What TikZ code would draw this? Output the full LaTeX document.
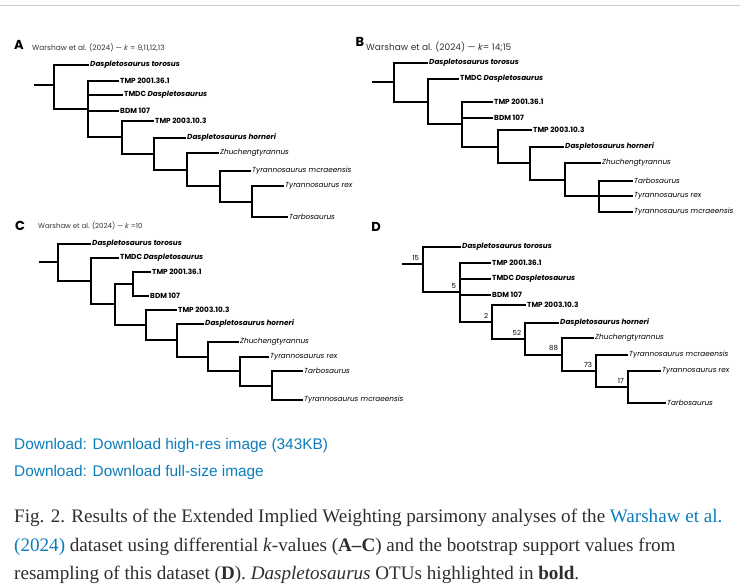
\documentclass[tikz,border=0pt]{standalone}
\usepackage{fontspec}
\setmainfont{Liberation Serif}
\setsansfont{Poppins}
\newfontfamily\linkfont{Liberation Sans}
\usetikzlibrary{positioning}
\definecolor{linkblue}{HTML}{0C7DBB}
\definecolor{captext}{HTML}{2E2E2E}
\tikzset{
  branch/.style={line width=1.7pt, line cap=rect},
  taxon/.style={anchor=west, inner xsep=2pt, inner ysep=0pt, font=\sffamily\fontsize{7.3}{9}\selectfont},
  das/.style={taxon, font=\sffamily\bfseries\itshape\fontsize{7.3}{9}\selectfont},
  spec/.style={taxon, font=\sffamily\bfseries\fontsize{7.3}{9}\selectfont},
  other/.style={taxon, font=\sffamily\itshape\fontsize{7.3}{9}\selectfont},
  panel/.style={inner sep=0pt, font=\sffamily\bfseries\fontsize{13}{15}\selectfont},
  head/.style={anchor=west, inner sep=0pt, text=black!80, font=\sffamily\fontsize{7.4}{8}\selectfont},
  support/.style={above left=2.5pt, inner sep=2pt, font=\sffamily\fontsize{7}{8}\selectfont},
  link/.style={anchor=base west, inner sep=0pt, text=linkblue, font=\linkfont\fontsize{15.4}{18}\selectfont},
  caption/.style={anchor=base west, inner sep=0pt, text=captext, font=\fontsize{19.1}{22}\selectfont}
}

\begin{document}
\begin{tikzpicture}[x=1pt, y=-1pt]
\useasboundingbox (0,0) rectangle (755,587);
\draw[black!20, line width=0.8pt] (0,5) -- (740,5);

% panel A
\node[panel] (pA) at (19,45) {A};
\node[head] (hA) at (32,48) {Warshaw et al. (2024) — \textit{k} = 9,11,12,13};
\coordinate (a0) at (35,85);
\coordinate (a1) at (54,85);
\coordinate (a2) at (88,109);
\coordinate (a3) at (122,137);
\coordinate (a4) at (154,154);
\coordinate (a5) at (187,170);
\coordinate (a6) at (220,186);
\coordinate (a7) at (252,202);
\node[das] (aTor) at (88,65) {Daspletosaurus torosus};
\node[spec] (aT01) at (118,81) {TMP 2001.36.1};
\node[spec] (aTMDC) at (122,95) {TMDC \textit{Daspletosaurus}};
\node[spec] (aBDM) at (118,111) {BDM 107};
\node[spec] (aT03) at (153,121) {TMP 2003.10.3};
\node[das] (aHor) at (185,138) {Daspletosaurus horneri};
\node[other] (aZhu) at (218,153) {Zhuchengtyrannus};
\node[other] (aMcr) at (250,171) {Tyrannosaurus mcraeensis};
\node[other] (aRex) at (283,186) {Tyrannosaurus rex};
\node[other] (aTar) at (287,217) {Tarbosaurus};
\draw[branch] (a0) -- (a1) (a1) |- (aTor.west) (a1) |- (a2)
  (a2) |- (aT01.west) (a2) |- (aTMDC.west) (a2) |- (aBDM.west) (a2) |- (a3)
  (a3) |- (aT03.west) (a3) |- (a4)
  (a4) |- (aHor.west) (a4) |- (a5)
  (a5) |- (aZhu.west) (a5) |- (a6)
  (a6) |- (aMcr.west) (a6) |- (a7)
  (a7) |- (aRex.west) (a7) |- (aTar.west);

% panel B
\node[panel] (pB) at (360,42) {B};
\node[head, font=\sffamily\fontsize{9}{10}\selectfont] (hB) at (366,47) {Warshaw et al. (2024) — \textit{k}= 14;15};
\coordinate (b0) at (373,82);
\coordinate (b1) at (394,82);
\coordinate (b2) at (428,102);
\coordinate (b3) at (462,124);
\coordinate (b4) at (498,147);
\coordinate (b5) at (530,163);
\coordinate (b6) at (565,180);
\coordinate (b7) at (599,196);
\node[das] (bTor) at (427,63) {Daspletosaurus torosus};
\node[spec] (bTMDC) at (458,79) {TMDC \textit{Daspletosaurus}};
\node[spec] (bT01) at (492,102) {TMP 2001.36.1};
\node[spec] (bBDM) at (492,118) {BDM 107};
\node[spec] (bT03) at (531,130) {TMP 2003.10.3};
\node[das] (bHor) at (563,147) {Daspletosaurus horneri};
\node[other] (bZhu) at (600,163) {Zhuchengtyrannus};
\node[other] (bTar) at (632,181) {Tarbosaurus};
\node[other] (bRex) at (632,196) {Tyrannosaurus rex};
\node[other] (bMcr) at (632,212) {Tyrannosaurus mcraeensis};
\draw[branch] (b0) -- (b1) (b1) |- (bTor.west) (b1) |- (b2)
  (b2) |- (bTMDC.west) (b2) |- (b3)
  (b3) |- (bT01.west) (b3) |- (bBDM.west) (b3) |- (b4)
  (b4) |- (bT03.west) (b4) |- (b5)
  (b5) |- (bHor.west) (b5) |- (b6)
  (b6) |- (bZhu.west) (b6) |- (b7)
  (b7) |- (bTar.west) (b7) |- (bRex.west) (b7) |- (bMcr.west);

% panel C
\node[panel] (pC) at (20,226) {C};
\node[head, font=\sffamily\fontsize{7}{8}\selectfont] (hC) at (38,226) {Warshaw et al. (2024) — \textit{k} =10};
\coordinate (c0) at (40,262);
\coordinate (c1) at (58,262);
\coordinate (c2) at (91,281);
\coordinate (c3) at (115,304);
\coordinate (cX) at (133,284);
\coordinate (c4) at (146,325);
\coordinate (c5) at (177,340);
\coordinate (c6) at (208,357);
\coordinate (c7) at (240,371);
\coordinate (c8) at (272,386);
\node[das] (cTor) at (90,244) {Daspletosaurus torosus};
\node[spec] (cTMDC) at (118,258) {TMDC \textit{Daspletosaurus}};
\node[spec] (cT01) at (150,272) {TMP 2001.36.1};
\node[spec] (cBDM) at (148,296) {BDM 107};
\node[spec] (cT03) at (176,310) {TMP 2003.10.3};
\node[das] (cHor) at (203,324) {Daspletosaurus horneri};
\node[other] (cZhu) at (238,342) {Zhuchengtyrannus};
\node[other] (cRex) at (268,357) {Tyrannosaurus rex};
\node[other] (cTar) at (302,371) {Tarbosaurus};
\node[other] (cMcr) at (302,400) {Tyrannosaurus mcraeensis};
\draw[branch] (c0) -- (c1) (c1) |- (cTor.west) (c1) |- (c2)
  (c2) |- (cTMDC.west) (c2) |- (c3)
  (c3) |- (cX) (cX) |- (cT01.west) (cX) |- (cBDM.west) (c3) |- (c4)
  (c4) |- (cT03.west) (c4) |- (c5)
  (c5) |- (cHor.west) (c5) |- (c6)
  (c6) |- (cZhu.west) (c6) |- (c7)
  (c7) |- (cRex.west) (c7) |- (c8)
  (c8) |- (cTar.west) (c8) |- (cMcr.west);

% panel D, bootstrap
\node[panel] (pD) at (376,227) {D};
\coordinate (d0) at (403,264);
\coordinate (d1) at (423,264);
\coordinate (d2) at (460,292);
\coordinate (d3) at (492,322);
\coordinate (d4) at (525,339);
\coordinate (d5) at (562,355);
\coordinate (d6) at (596,371);
\coordinate (d7) at (628,387);
\node[das] (dTor) at (460,247) {Daspletosaurus torosus};
\node[spec] (dT01) at (490,263) {TMP 2001.36.1};
\node[spec] (dTMDC) at (490,279) {TMDC \textit{Daspletosaurus}};
\node[spec] (dBDM) at (490,295) {BDM 107};
\node[spec] (dT03) at (525,305) {TMP 2003.10.3};
\node[das] (dHor) at (558,323) {Daspletosaurus horneri};
\node[other] (dZhu) at (593,338) {Zhuchengtyrannus};
\node[other] (dMcr) at (627,355) {Tyrannosaurus mcraeensis};
\node[other] (dRex) at (660,371) {Tyrannosaurus rex};
\node[other] (dTar) at (665,403) {Tarbosaurus};
\draw[branch] (d0) -- (d1) (d1) |- (dTor.west) (d1) |- (d2)
  (d2) |- (dT01.west) (d2) |- (dTMDC.west) (d2) |- (dBDM.west) (d2) |- (d3)
  (d3) |- (dT03.west) (d3) |- (d4)
  (d4) |- (dHor.west) (d4) |- (d5)
  (d5) |- (dZhu.west) (d5) |- (d6)
  (d6) |- (dMcr.west) (d6) |- (d7)
  (d7) |- (dRex.west) (d7) |- (dTar.west);
\node[support] (s1) at (d1) {15};
\node[support] (s2) at (d2) {5};
\node[support] (s3) at (d3) {2};
\node[support] (s4) at (d4) {52};
\node[support] (s5) at (d5) {88};
\node[support] (s6) at (d6) {73};
\node[support] (s7) at (d7) {17};

% links and caption
\node[link] (dl1) at (14,449) {Download: Download high-res image (343KB)};
\node[link] (dl2) at (14,476) {Download: Download full-size image};
\node[caption] (cap1) at (14,522) {Fig. 2. Results of the Extended Implied Weighting parsimony analyses of the \textcolor{linkblue}{Warshaw et al.}};
\node[caption] (cap2) at (14,551) {\textcolor{linkblue}{(2024)} dataset using differential \textit{k}-values (\textbf{A–C}) and the bootstrap support values from};
\node[caption] (cap3) at (14,579) {resampling of this dataset (\textbf{D}). \textit{Daspletosaurus} OTUs highlighted in \textbf{bold}.};
\end{tikzpicture}
\end{document}
